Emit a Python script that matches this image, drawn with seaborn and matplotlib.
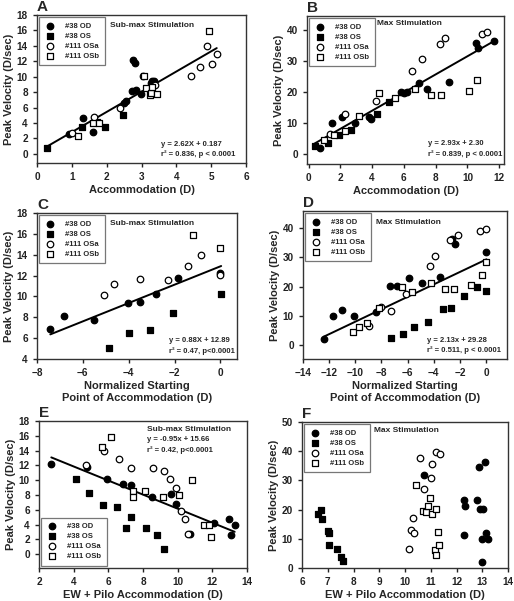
import numpy as np
import pandas as pd
import matplotlib
matplotlib.use("Agg")
import matplotlib.pyplot as plt
import seaborn as sns

sns.set_style("ticks")
plt.rcParams['font.family'] = ['Liberation Sans', 'DejaVu Sans']
plt.rcParams['font.weight'] = 'bold'

GROUPS = ['#38 OD', '#38 OS', '#111 OSa', '#111 OSb']

# ---- Panel A: sub-max, accommodation ----
A_od_x = [0.92, 1.31, 1.60, 2.50, 2.55, 2.74, 2.76, 2.81, 2.85, 2.98, 3.04, 3.28, 3.30, 3.35]
A_od_y = [2.6, 4.7, 2.8, 6.6, 6.8, 8.1, 12.2, 11.8, 8.3, 7.7, 10.1, 9.2, 9.45, 9.5]
A_os_x = [0.30, 1.29, 1.72, 1.94, 2.47]
A_os_y = [0.74, 3.5, 4.1, 3.5, 5.07]
A_osa_x = [1.00, 1.64, 2.39, 3.40, 4.43, 4.68, 4.87, 5.03, 5.16]
A_osa_y = [2.7, 4.8, 5.9, 8.9, 10.15, 11.2, 13.96, 11.67, 12.97]
A_osb_x = [1.18, 1.62, 1.78, 3.08, 3.13, 3.23, 3.27, 3.30, 3.45, 4.95]
A_osb_y = [2.34, 4.0, 4.0, 10.06, 8.5, 7.6, 7.9, 8.67, 7.7, 15.87]

# ---- Panel B: max, accommodation ----
B_od_x = [0.69, 1.50, 2.10, 2.92, 3.81, 3.92, 5.79, 6.00, 6.17, 6.96, 7.46, 8.83, 10.54, 10.65, 11.70]
B_od_y = [1.9, 10.0, 11.9, 10.0, 12.1, 11.3, 19.9, 19.6, 19.9, 22.9, 21.0, 23.3, 36.0, 34.4, 36.6]
B_os_x = [0.38, 1.20, 1.90, 2.70, 4.33, 5.06]
B_os_y = [2.5, 3.5, 6.3, 7.8, 12.9, 16.7]
B_osa_x = [1.33, 2.29, 4.27, 6.52, 7.13, 8.29, 8.56, 10.90, 11.25]
B_osa_y = [6.4, 12.9, 17.2, 26.8, 30.6, 35.7, 37.6, 38.9, 39.5]
B_osb_x = [0.96, 1.58, 2.31, 3.19, 4.44, 5.42, 6.71, 7.73, 8.31, 10.08, 10.60]
B_osb_y = [4.6, 6.2, 7.6, 12.4, 19.8, 18.2, 21.0, 19.1, 19.1, 20.4, 23.9]

# ---- Panel C: sub-max, normalized start ----
C_od_x = [-7.42, -6.84, -5.50, -4.02, -3.51, -2.82, -1.85, 0.0]
C_od_y = [6.84, 8.12, 7.74, 9.37, 9.5, 10.2, 11.8, 12.2]
C_os_x = [-4.85, -3.98, -3.08, -2.05, 0.03]
C_os_y = [5.09, 6.46, 6.75, 8.38, 10.2]
C_osa_x = [-5.09, -4.63, -3.51, -2.28, -1.42, -0.85, 0.0]
C_osa_y = [10.1, 11.2, 11.7, 11.6, 12.9, 14.0, 12.1]
C_osb_x = [-1.21, 0.0]
C_osb_y = [15.85, 14.6]

# ---- Panel D: max, normalized start ----
D_od_x = [-12.4, -11.7, -11.0, -10.1, -8.4, -7.36, -6.78, -5.88, -4.91, -3.53, -2.63, -2.37, 0.0]
D_od_y = [2.06, 10.1, 12.1, 10.1, 11.4, 20.3, 20.1, 23.1, 21.1, 23.4, 36.2, 34.5, 31.9]
D_os_x = [-7.27, -6.38, -5.5, -4.41, -3.3, -2.7, -1.69, -0.69, 0.0]
D_os_y = [2.5, 3.66, 6.3, 7.9, 12.3, 12.8, 16.9, 19.8, 18.6]
D_osa_x = [-8.94, -8.04, -7.25, -6.15, -4.28, -3.92, -2.75, -2.12, -0.46, 0.03]
D_osa_y = [6.4, 12.9, 11.66, 17.3, 27.1, 30.6, 35.8, 37.7, 39.1, 39.7]
D_osb_x = [-10.2, -9.73, -9.14, -8.17, -6.46, -5.67, -4.23, -3.13, -2.45, -1.15, -0.33, 0.0]
D_osb_y = [4.46, 6.17, 7.66, 12.6, 20.0, 18.3, 21.3, 19.1, 19.3, 20.5, 23.9, 28.6]

# ---- Panel E: sub-max, EW + pilo ----
E_od_x = [2.71, 4.78, 5.90, 6.86, 7.33, 8.52, 9.63, 9.92, 10.73, 12.08, 12.97, 13.08, 13.29]
E_od_y = [12.2, 11.8, 10.15, 9.56, 9.34, 7.7, 8.1, 6.8, 2.8, 4.28, 4.7, 2.66, 3.9]
E_os_x = [4.12, 4.90, 5.69, 6.48, 7.31, 7.00, 8.16, 8.81, 9.22]
E_os_y = [10.15, 8.3, 6.7, 6.45, 5.1, 3.56, 3.56, 2.66, 0.77]
E_osa_x = [4.74, 5.76, 6.61, 7.31, 8.58, 9.24, 9.53, 9.90, 10.18, 10.44, 10.60]
E_osa_y = [12.0, 13.9, 12.86, 11.6, 11.7, 11.2, 10.15, 8.9, 5.86, 4.83, 2.7]
E_osb_x = [5.61, 6.13, 7.42, 7.44, 8.14, 9.14, 10.07, 10.80, 11.54, 11.80, 11.92]
E_osb_y = [14.5, 15.8, 8.57, 7.67, 8.6, 7.7, 8.03, 10.06, 4.0, 4.0, 2.3]

# ---- Panel F: max, EW + pilo ----
F_od_x = [10.74, 12.28, 12.32, 12.28, 12.78, 12.89, 13.10, 12.93, 13.03, 12.98, 13.13, 13.22, 13.00]
F_od_y = [31.96, 23.4, 21.1, 11.4, 23.2, 34.5, 36.3, 20.1, 20.1, 10.0, 12.1, 10.0, 2.05]
F_os_x = [6.64, 6.73, 6.76, 7.02, 7.04, 7.03, 7.35, 7.50, 7.59]
F_os_y = [18.6, 19.9, 16.9, 12.6, 11.9, 8.0, 6.4, 3.65, 2.5]
F_osa_x = [10.14, 10.25, 10.36, 10.32, 10.59, 10.75, 11.03, 11.00, 11.20, 11.35]
F_osa_y = [6.5, 13.0, 11.9, 17.1, 37.7, 26.9, 35.7, 30.8, 39.8, 39.0]
F_osb_x = [10.41, 10.71, 10.80, 10.90, 10.99, 11.06, 11.21, 11.30, 11.17, 11.20, 11.32]
F_osb_y = [28.5, 19.5, 19.2, 21.2, 24.0, 18.5, 20.3, 12.4, 6.2, 4.3, 7.8]

# reported fits (slope, intercept); None = no line
FITS = {'A': (2.62, 0.187), 'B': (2.93, 2.30), 'C': (0.88, 12.89),
        'D': (2.13, 29.28), 'E': (-0.95, 15.66), 'F': None}

STYLE = {'#38 OD': ('o', 'black'), '#38 OS': ('s', 'black'),
         '#111 OSa': ('o', 'white'), '#111 OSb': ('s', 'white')}

W, H = 514, 601
fig = plt.figure(figsize=(W / 100, H / 100), dpi=100)


def px_axes(left, right, top, bottom):
    return fig.add_axes([left / W, (H - bottom) / H, (right - left) / W, (bottom - top) / H])


def make_df(xs, ys):
    frames = []
    for g, x, y in zip(GROUPS, xs, ys):
        frames.append(pd.DataFrame({'x': x, 'y': y, 'group': g}))
    return pd.concat(frames, ignore_index=True)


def draw_panel(ax, letter, df, xlim, ylim, xticks, yticks, xlabel, stim,
               stim_pos, eq_text=None, eq_pos=None, legend_loc='upper left'):
    for g in GROUPS:
        sub = df[df['group'] == g]
        marker, face = STYLE[g]
        sns.scatterplot(data=sub, x='x', y='y', marker=marker, s=22,
                        color=face, edgecolor='black', linewidth=0.9,
                        ax=ax, label=g, zorder=3)
    fit = FITS[letter]
    if fit is not None:
        xr = np.array([df['x'].min(), df['x'].max()])
        sns.lineplot(x=xr, y=fit[0] * xr + fit[1], color='black', lw=1.4, ax=ax, zorder=2)

    ax.set_xlim(*xlim)
    ax.set_ylim(*ylim)
    ax.set_xticks(xticks)
    ax.set_yticks(yticks)
    ax.tick_params(labelsize=7.2, width=1, length=3, direction='out', colors='#222222')
    for lab in ax.get_xticklabels() + ax.get_yticklabels():
        lab.set_fontweight('bold')
    for sp in ax.spines.values():
        sp.set_visible(True)
        sp.set_color('#333333')
        sp.set_linewidth(1.0)
    ax.set_xlabel(xlabel, fontsize=8, fontweight='bold', labelpad=2, linespacing=1.3)
    ax.set_ylabel('Peak Velocity (D/sec)', fontsize=8, fontweight='bold', labelpad=2)

    leg = ax.legend(loc=legend_loc, frameon=True, fancybox=False, fontsize=5.5,
                    borderpad=0.7, labelspacing=0.35, handletextpad=1.2,
                    handlelength=1.5, borderaxespad=0.3)
    leg.get_frame().set_edgecolor('#555555')
    leg.get_frame().set_linewidth(0.9)
    for t in leg.get_texts():
        t.set_fontweight('bold')

    ax.text(stim_pos[0], stim_pos[1], stim, transform=ax.transAxes, fontsize=6,
            fontweight='bold', va='center', ha='left')
    if eq_text:
        ax.text(eq_pos[0], eq_pos[1], eq_text, transform=ax.transAxes, fontsize=5.5,
                fontweight='bold', va='center', ha='left', linespacing=1.5)
    ax.text(0.0, 1.01, letter, transform=ax.transAxes, fontsize=11,
            fontweight='bold', va='bottom', ha='left')


norm_label = 'Normalized Starting\nPoint of Accommodation (D)'
ew_label = 'EW + Pilo Accommodation (D)'

axA = px_axes(37, 246, 15, 163)
draw_panel(axA, 'A', make_df([A_od_x, A_os_x, A_osa_x, A_osb_x], [A_od_y, A_os_y, A_osa_y, A_osb_y]),
           (0, 6), (-1.2, 18), range(0, 7), range(0, 19, 2), 'Accommodation (D)',
           'Sub-max Stimulation', (0.35, 0.93),
           'y = 2.62X + 0.187\nr² = 0.836, p < 0.0001', (0.595, 0.09))

axB = px_axes(307, 504, 16, 164)
draw_panel(axB, 'B', make_df([B_od_x, B_os_x, B_osa_x, B_osb_x], [B_od_y, B_os_y, B_osa_y, B_osb_y]),
           (-0.1, 12.3), (-3.2, 44.6), range(0, 13, 2), range(0, 41, 10), 'Accommodation (D)',
           'Max Stimulation', (0.355, 0.95),
           'y = 2.93x + 2.30\nr² = 0.839, p < 0.0001', (0.615, 0.10))

axC = px_axes(37, 237, 213, 359)
draw_panel(axC, 'C', make_df([C_od_x, C_os_x, C_osa_x, C_osb_x], [C_od_y, C_os_y, C_osa_y, C_osb_y]),
           (-8, 0.72), (4, 18), range(-8, 1, 2), range(4, 19, 2), norm_label,
           'Sub-max Stimulation', (0.365, 0.93),
           'y = 0.88X + 12.89\nr² = 0.47, p<0.0001', (0.66, 0.09))

axD = px_axes(303, 507, 211, 359)
draw_panel(axD, 'D', make_df([D_od_x, D_os_x, D_osa_x, D_osb_x], [D_od_y, D_os_y, D_osa_y, D_osb_y]),
           (-14, 1.6), (-4.8, 45.9), range(-14, 1, 2), range(0, 41, 10), norm_label,
           'Max Stimulation', (0.36, 0.925),
           'y = 2.13x + 29.28\nr² = 0.511, p < 0.0001', (0.61, 0.09))

axE = px_axes(39, 247, 421, 568)
draw_panel(axE, 'E', make_df([E_od_x, E_os_x, E_osa_x, E_osb_x], [E_od_y, E_os_y, E_osa_y, E_osb_y]),
           (2, 14), (-1.85, 18), range(2, 15, 2), range(0, 19, 2), ew_label,
           'Sub-max Stimulation', (0.52, 0.94),
           'y = -0.95x + 15.66\nr² = 0.42, p<0.0001', (0.52, 0.835),
           legend_loc='lower left')

axF = px_axes(302, 508, 422, 568)
draw_panel(axF, 'F', make_df([F_od_x, F_os_x, F_osa_x, F_osb_x], [F_od_y, F_os_y, F_osa_y, F_osb_y]),
           (6, 14), (0, 50), range(6, 15), range(0, 51, 10), ew_label,
           'Max Stimulation', (0.35, 0.94))

fig.savefig('out.png', dpi=100, facecolor='white')
